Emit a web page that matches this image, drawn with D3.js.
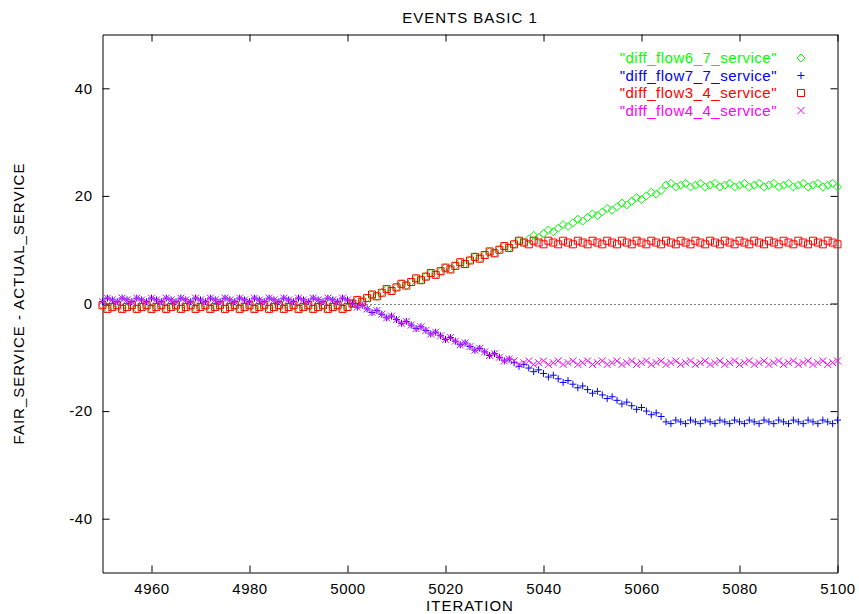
<!DOCTYPE html>
<html>
<head>
<meta charset="utf-8">
<script src="https://cdn.jsdelivr.net/npm/d3@7"></script>
<style>
  html, body { margin: 0; padding: 0; background: #fff; }
  svg { display: block; font-family: "Liberation Sans", Arial, Helvetica, sans-serif; }
</style>
</head>
<body>
<svg id="chart" width="859" height="614"></svg>
<script>
// Iteration window shown on the x axis
const iterationStart = 4950;
const iterationEnd = 5100;

// FAIR_SERVICE - ACTUAL_SERVICE per iteration, 4950..5100
const flow6_7 = [
  -0.33,-1,-0.67, -0.33,-1,-0.67, -0.33,-1,-0.67, -0.33,-1,-0.67, -0.33,-1,-0.67, -0.33,-1,-0.67,
  -0.33,-1,-0.67, -0.33,-1,-0.67, -0.33,-1,-0.67, -0.33,-1,-0.67, -0.33,-1,-0.67, -0.33,-1,-0.67,
  -0.33,-1,-0.67, -0.33,-1,-0.67, -0.33,-1,-0.67, -0.33,-1,-0.67, -0.33,-1,-0.67,
  0,0.67,0.33, 1,1.67,1.33, 2,2.67,2.33, 3,3.67,3.33, 4,4.67,4.33, 5,5.67,5.33, 6,6.67,6.33,
  7,7.67,7.33, 8,8.67,8.33, 9,9.67,9.33, 10,10.67,10.33, 11,11.67,11.33, 12,12.67,12.33, 13,13.67,13.33,
  14,14.67,14.33, 15,15.67,15.33, 16,16.67,16.33, 17,17.67,17.33, 18,18.67,18.33, 19,19.67,19.33, 20,20.67,20.33,
  21,
  22,22.33,21.67, 22,22.33,21.67, 22,22.33,21.67, 22,22.33,21.67, 22,22.33,21.67, 22,22.33,21.67,
  22,22.33,21.67, 22,22.33,21.67, 22,22.33,21.67, 22,22.33,21.67, 22,22.33,21.67, 22,22.33,21.67
];

const flow7_7 = [
  0.33,1,0.67, 0.33,1,0.67, 0.33,1,0.67, 0.33,1,0.67, 0.33,1,0.67, 0.33,1,0.67,
  0.33,1,0.67, 0.33,1,0.67, 0.33,1,0.67, 0.33,1,0.67, 0.33,1,0.67, 0.33,1,0.67,
  0.33,1,0.67, 0.33,1,0.67, 0.33,1,0.67, 0.33,1,0.67, 0.33,1,0.67,
  0,-0.67,-0.33, -1,-1.67,-1.33, -2,-2.67,-2.33, -3,-3.67,-3.33, -4,-4.67,-4.33, -5,-5.67,-5.33, -6,-6.67,-6.33,
  -7,-7.67,-7.33, -8,-8.67,-8.33, -9,-9.67,-9.33, -10,-10.67,-10.33, -11,-11.67,-11.33, -12,-12.67,-12.33, -13,-13.67,-13.33,
  -14,-14.67,-14.33, -15,-15.67,-15.33, -16,-16.67,-16.33, -17,-17.67,-17.33, -18,-18.67,-18.33, -19,-19.67,-19.33, -20,-20.67,-20.33,
  -21,
  -22,-22.33,-21.67, -22,-22.33,-21.67, -22,-22.33,-21.67, -22,-22.33,-21.67, -22,-22.33,-21.67, -22,-22.33,-21.67,
  -22,-22.33,-21.67, -22,-22.33,-21.67, -22,-22.33,-21.67, -22,-22.33,-21.67, -22,-22.33,-21.67, -22,-22.33,-21.67
];

const flow3_4 = [
  -0.33,-1,-0.67, -0.33,-1,-0.67, -0.33,-1,-0.67, -0.33,-1,-0.67, -0.33,-1,-0.67, -0.33,-1,-0.67,
  -0.33,-1,-0.67, -0.33,-1,-0.67, -0.33,-1,-0.67, -0.33,-1,-0.67, -0.33,-1,-0.67, -0.33,-1,-0.67,
  -0.33,-1,-0.67, -0.33,-1,-0.67, -0.33,-1,-0.67, -0.33,-1,-0.67, -0.33,-1,-0.67,
  0,0.67,0.33, 1,1.67,1.33, 2,2.67,2.33, 3,3.67,3.33, 4,4.67,4.33, 5,5.67,5.33,
  6,6.67,6.33, 7,7.67,7.33, 8,8.67,8.33, 9,9.67,9.33, 10,10.67,10.33,
  11,11.67,11.33, 11,11.67,11.33, 11,11.67,11.33, 11,11.67,11.33, 11,11.67,11.33, 11,11.67,11.33,
  11,11.67,11.33, 11,11.67,11.33, 11,11.67,11.33, 11,11.67,11.33, 11,11.67,11.33, 11,11.67,11.33,
  11,11.67,11.33, 11,11.67,11.33, 11,11.67,11.33, 11,11.67,11.33, 11,11.67,11.33, 11,11.67,11.33,
  11,11.67,11.33, 11,11.67,11.33, 11,11.67,11.33, 11,11.67,11.33,
  11
];

const flow4_4 = [
  0.33,1,0.67, 0.33,1,0.67, 0.33,1,0.67, 0.33,1,0.67, 0.33,1,0.67, 0.33,1,0.67,
  0.33,1,0.67, 0.33,1,0.67, 0.33,1,0.67, 0.33,1,0.67, 0.33,1,0.67, 0.33,1,0.67,
  0.33,1,0.67, 0.33,1,0.67, 0.33,1,0.67, 0.33,1,0.67, 0.33,1,0.67,
  0,-0.67,-0.33, -1,-1.67,-1.33, -2,-2.67,-2.33, -3,-3.67,-3.33, -4,-4.67,-4.33, -5,-5.67,-5.33,
  -6,-6.67,-6.33, -7,-7.67,-7.33, -8,-8.67,-8.33, -9,-9.67,-9.33, -10,-10.67,-10.33,
  -10.67,-11.33,-11, -10.67,-11.33,-11, -10.67,-11.33,-11, -10.67,-11.33,-11, -10.67,-11.33,-11, -10.67,-11.33,-11,
  -10.67,-11.33,-11, -10.67,-11.33,-11, -10.67,-11.33,-11, -10.67,-11.33,-11, -10.67,-11.33,-11, -10.67,-11.33,-11,
  -10.67,-11.33,-11, -10.67,-11.33,-11, -10.67,-11.33,-11, -10.67,-11.33,-11, -10.67,-11.33,-11, -10.67,-11.33,-11,
  -10.67,-11.33,-11, -10.67,-11.33,-11, -10.67,-11.33,-11, -10.67,-11.33,-11,
  -10.67
];

// Axis ticks and labels
const xTicks = [4960, 4980, 5000, 5020, 5040, 5060, 5080, 5100];
const yTicks = [-40, -20, 0, 20, 40];
const titleText = "EVENTS BASIC 1";
const xLabel = "ITERATION";
const yLabel = "FAIR_SERVICE - ACTUAL_SERVICE";

// Series, in drawing order
const seriesNames = ['"diff_flow6_7_service"', '"diff_flow7_7_service"', '"diff_flow3_4_service"', '"diff_flow4_4_service"'];
const seriesValues = [flow6_7, flow7_7, flow3_4, flow4_4];
const seriesColors = ["#00ff00", "#0000ff", "#ff0000", "#ff00ff"];
const seriesMarks = ["diamond", "plus", "square", "cross"];

// Point glyph outlines, centred on the data point
const glyph = {
  diamond: "M0,-4L4,0L0,4L-4,0Z",
  plus: "M-3.5,0H3.5M0,-3.5V3.5",
  square: "M-3.5,-3.5H3.5V3.5H-3.5Z",
  cross: "M-3.5,-3.5L3.5,3.5M3.5,-3.5L-3.5,3.5"
};

const svg = d3.select("#chart");
const plotLeft = 102.5, plotRight = 837.5, plotTop = 34.5, plotBottom = 572.5;

const x = d3.scaleLinear().domain([iterationStart, iterationEnd]).range([plotLeft, plotRight]);
const y = d3.scaleLinear().domain([-50, 50]).range([plotBottom, plotTop]);
const iterations = d3.range(iterationStart, iterationEnd + 1);

// Plain ASCII hyphen for negative tick labels
const plainNumber = d => String(d);

// Dotted zero line
svg.append("line")
  .attr("x1", x(iterationStart)).attr("x2", x(iterationEnd))
  .attr("y1", Math.round(y(0)) + 0.5).attr("y2", Math.round(y(0)) + 0.5)
  .attr("stroke", "#000").attr("stroke-width", 1)
  .attr("stroke-dasharray", "1,3");

// Axes with inward ticks, mirrored on top and right
const tickFont = g => g.selectAll("text")
  .attr("font-size", "15px").attr("letter-spacing", "0.5px")
  .attr("fill", "#000").attr("font-family", '"Liberation Sans", Arial, sans-serif');

svg.append("g").attr("transform", `translate(0,${plotBottom})`)
  .call(d3.axisBottom(x).tickValues(xTicks).tickSize(-7).tickSizeOuter(0).tickPadding(11).tickFormat(plainNumber))
  .call(tickFont);
svg.append("g").attr("transform", `translate(0,${plotTop})`)
  .call(d3.axisTop(x).tickValues(xTicks).tickSize(-7).tickSizeOuter(0).tickFormat(""));
svg.append("g").attr("transform", `translate(${plotLeft},0)`)
  .call(d3.axisLeft(y).tickValues(yTicks).tickSize(-7).tickSizeOuter(0).tickPadding(10).tickFormat(plainNumber))
  .call(tickFont);
svg.append("g").attr("transform", `translate(${plotRight},0)`)
  .call(d3.axisRight(y).tickValues(yTicks).tickSize(-7).tickSizeOuter(0).tickFormat(""));

svg.selectAll(".domain, .tick line").attr("stroke", "#000").attr("stroke-width", 1);

// Title and axis labels
svg.append("text").attr("x", (plotLeft + plotRight) / 2).attr("y", 23)
  .attr("text-anchor", "middle").attr("font-size", "15px").attr("letter-spacing", "1px")
  .text(titleText);
svg.append("text").attr("x", (plotLeft + plotRight) / 2).attr("y", 611)
  .attr("text-anchor", "middle").attr("font-size", "15px").attr("letter-spacing", "1px")
  .text(xLabel);
svg.append("text").attr("transform", `translate(24,${(plotTop + plotBottom) / 2}) rotate(-90)`)
  .attr("text-anchor", "middle").attr("font-size", "15px").attr("letter-spacing", "1px")
  .text(yLabel);

// Data points
seriesValues.forEach((vals, s) => {
  svg.append("g")
    .selectAll("path")
    .data(iterations.map((it, i) => ({ it, v: vals[i] })))
    .join("path")
    .attr("transform", d => `translate(${x(d.it)},${y(d.v)})`)
    .attr("d", glyph[seriesMarks[s]])
    .attr("fill", "none")
    .attr("stroke", seriesColors[s])
    .attr("stroke-width", 1);
});

// Legend
const legend = svg.append("g");
seriesNames.forEach((name, s) => {
  const cy = 58 + s * 17.5;
  legend.append("text").attr("x", 777).attr("y", cy).attr("dy", "0.35em")
    .attr("text-anchor", "end").attr("font-size", "15px").attr("letter-spacing", "0.5px")
    .attr("fill", seriesColors[s]).text(name);
  legend.append("path").attr("transform", `translate(801,${cy})`)
    .attr("d", glyph[seriesMarks[s]])
    .attr("fill", "none").attr("stroke", seriesColors[s]).attr("stroke-width", 1);
});
</script>
</body>
</html>
